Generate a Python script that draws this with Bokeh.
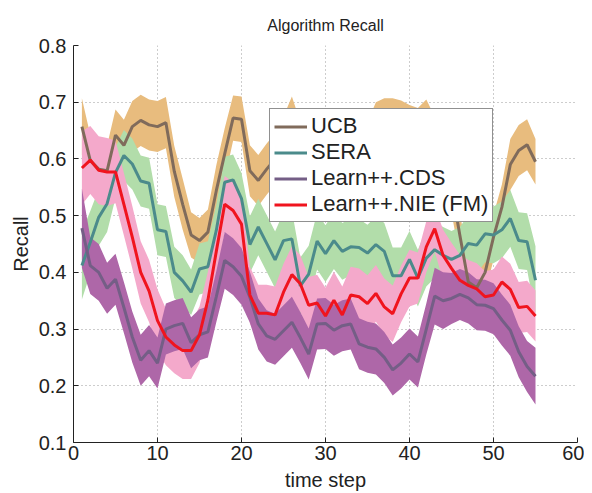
from bokeh.plotting import figure
from bokeh.models import Range1d, FixedTicker, Legend, LegendItem, Title
from bokeh.embed import file_html
from bokeh.resources import INLINE
import numpy as np

steps = list(range(1, 56))

ucb = [0.657, 0.597, 0.582, 0.579, 0.642, 0.624, 0.657, 0.668, 0.660, 0.657,
       0.664, 0.578, 0.520, 0.466, 0.456, 0.471, 0.544, 0.609, 0.672, 0.670,
       0.579, 0.562, 0.582, 0.600, 0.630, 0.665, 0.620, 0.600, 0.590, 0.610,
       0.600, 0.580, 0.600, 0.610, 0.620, 0.655, 0.662, 0.662, 0.658, 0.650,
       0.645, 0.660, 0.630, 0.600, 0.550, 0.465, 0.383, 0.373, 0.400, 0.462,
       0.515, 0.590, 0.615, 0.625, 0.595]
ucb_sd = [0.050, 0.045, 0.045, 0.045, 0.045, 0.045, 0.045, 0.045, 0.045, 0.045,
          0.045, 0.045, 0.045, 0.040, 0.040, 0.040, 0.045, 0.045, 0.040, 0.040,
          0.045, 0.045, 0.045, 0.045, 0.045, 0.045, 0.045, 0.045, 0.045, 0.045,
          0.045, 0.045, 0.045, 0.045, 0.045, 0.045, 0.045, 0.045, 0.045, 0.045,
          0.045, 0.045, 0.045, 0.045, 0.045, 0.040, 0.035, 0.035, 0.035, 0.040,
          0.040, 0.045, 0.045, 0.045, 0.040]

sera = [0.412, 0.453, 0.497, 0.521, 0.576, 0.606, 0.591, 0.561, 0.557, 0.475,
        0.472, 0.400, 0.385, 0.365, 0.406, 0.410, 0.474, 0.559, 0.563, 0.530,
        0.449, 0.480, 0.451, 0.422, 0.456, 0.459, 0.376, 0.397, 0.455, 0.433,
        0.456, 0.437, 0.445, 0.444, 0.434, 0.449, 0.437, 0.394, 0.394, 0.423,
        0.390, 0.425, 0.440, 0.430, 0.423, 0.430, 0.451, 0.448, 0.468, 0.466,
        0.475, 0.495, 0.456, 0.454, 0.386]
sera_sd = [0.060, 0.055, 0.050, 0.050, 0.045, 0.045, 0.045, 0.045, 0.045, 0.045,
           0.045, 0.045, 0.045, 0.040, 0.045, 0.045, 0.045, 0.045, 0.045, 0.045,
           0.050, 0.050, 0.050, 0.050, 0.050, 0.050, 0.050, 0.050, 0.050, 0.050,
           0.050, 0.050, 0.050, 0.050, 0.050, 0.050, 0.050, 0.050, 0.050, 0.050,
           0.050, 0.050, 0.050, 0.050, 0.050, 0.050, 0.050, 0.050, 0.050, 0.050,
           0.050, 0.050, 0.050, 0.050, 0.060]

cds = [0.478, 0.412, 0.400, 0.372, 0.388, 0.338, 0.286, 0.245, 0.262, 0.240,
       0.300, 0.306, 0.310, 0.276, 0.290, 0.295, 0.357, 0.421, 0.410, 0.393,
       0.356, 0.309, 0.288, 0.282, 0.297, 0.312, 0.285, 0.256, 0.309, 0.310,
       0.298, 0.306, 0.309, 0.274, 0.268, 0.265, 0.250, 0.228, 0.240, 0.256,
       0.242, 0.300, 0.358, 0.350, 0.354, 0.361, 0.355, 0.343, 0.342, 0.336,
       0.316, 0.298, 0.260, 0.234, 0.217]
cds_sd = [0.070, 0.050, 0.050, 0.045, 0.045, 0.045, 0.045, 0.045, 0.045, 0.045,
          0.045, 0.045, 0.045, 0.045, 0.045, 0.045, 0.045, 0.050, 0.050, 0.050,
          0.045, 0.045, 0.045, 0.045, 0.045, 0.045, 0.045, 0.045, 0.045, 0.045,
          0.045, 0.045, 0.045, 0.045, 0.045, 0.045, 0.045, 0.045, 0.045, 0.045,
          0.045, 0.045, 0.050, 0.050, 0.045, 0.045, 0.045, 0.045, 0.045, 0.045,
          0.045, 0.045, 0.045, 0.045, 0.050]

nie = [0.584, 0.598, 0.580, 0.577, 0.577, 0.520, 0.462, 0.400, 0.367, 0.315,
       0.286, 0.272, 0.262, 0.262, 0.290, 0.351, 0.437, 0.520, 0.509, 0.485,
       0.360, 0.328, 0.328, 0.325, 0.365, 0.396, 0.380, 0.342, 0.346, 0.323,
       0.351, 0.325, 0.360, 0.357, 0.345, 0.363, 0.339, 0.327, 0.362, 0.390,
       0.390, 0.445, 0.477, 0.430, 0.407, 0.386, 0.377, 0.371, 0.357, 0.360,
       0.383, 0.370, 0.338, 0.340, 0.323]
nie_sd = [0.065, 0.060, 0.060, 0.060, 0.055, 0.055, 0.055, 0.055, 0.055, 0.055,
          0.050, 0.050, 0.050, 0.050, 0.050, 0.050, 0.050, 0.050, 0.050, 0.050,
          0.050, 0.050, 0.050, 0.050, 0.050, 0.050, 0.050, 0.050, 0.050, 0.050,
          0.050, 0.050, 0.050, 0.050, 0.050, 0.050, 0.050, 0.050, 0.050, 0.050,
          0.045, 0.045, 0.040, 0.045, 0.045, 0.045, 0.045, 0.045, 0.045, 0.045,
          0.045, 0.045, 0.045, 0.045, 0.045]

series_names = ["UCB", "SERA", "Learn++.CDS", "Learn++.NIE (FM)"]
x_ticks = [0, 10, 20, 30, 40, 50, 60]
y_ticks = [0.1, 0.2, 0.3, 0.4, 0.5, 0.6, 0.7, 0.8]
title_text = "Algorithm Recall"

FONT = "Liberation Sans"

p = figure(width=584, height=493, output_backend="svg", toolbar_location=None,
           x_range=Range1d(0, 60), y_range=Range1d(0.1, 0.8),
           min_border_left=73, min_border_right=7, min_border_top=45, min_border_bottom=43)
p.outline_line_color = None
p.background_fill_color = "white"
p.border_fill_color = "white"

# trailing empty line lifts the title a little further above the frame
p.title = Title(text=title_text + "\n", align="center", text_font=FONT,
                text_font_size="16px", text_font_style="normal",
                text_color="#222222", standoff=0, text_line_height=0.65)

band_colors = ["#E8BC7E", "#B2DDAA", "#AE67A8", "#F4A9CB"]
line_colors = ["#806B5B", "#4B8B8B", "#745E86", "#F0141E"]
means = [ucb, sera, cds, nie]
sds = [ucb_sd, sera_sd, cds_sd, nie_sd]

xs = np.array(steps)
# bands drawn in order: UCB, SERA, NIE, CDS
for i in [0, 1, 3, 2]:
    m = np.array(means[i]); s = np.array(sds[i])
    p.varea(x=xs, y1=m - s, y2=m + s, fill_color=band_colors[i], fill_alpha=1.0)

renderers = []
for i in range(4):
    r = p.line(xs, means[i], line_color=line_colors[i], line_width=3)
    renderers.append(r)

p.xaxis.ticker = FixedTicker(ticks=x_ticks)
p.yaxis.ticker = FixedTicker(ticks=y_ticks)
for ax in [p.xaxis[0], p.yaxis[0]]:
    ax.major_tick_in = 5
    ax.major_tick_out = 0
    ax.minor_tick_in = 0
    ax.minor_tick_out = 0
    ax.axis_line_color = "#222222"
    ax.major_tick_line_color = "#222222"
    ax.major_label_text_font = FONT
    ax.major_label_text_font_size = "20px"
    ax.major_label_text_color = "#222222"
    ax.axis_label_text_font = FONT
    ax.axis_label_text_font_size = "20px"
    ax.axis_label_text_font_style = "normal"
    ax.axis_label_text_color = "#222222"
p.xaxis.axis_label = "time step"
p.yaxis.axis_label = "Recall"
p.xaxis.major_label_standoff = 3
p.xaxis.axis_label_standoff = 6
p.yaxis.major_label_standoff = 7
p.yaxis.axis_label_standoff = 4

for g in [p.xgrid[0], p.ygrid[0]]:
    g.grid_line_color = "#9a9a9a"
    g.grid_line_dash = "1 3"
    g.grid_line_width = 1

items = [LegendItem(label=series_names[i], renderers=[renderers[i]]) for i in range(4)]
legend = Legend(items=items, location=(196, 220))
legend.label_text_font = FONT
legend.label_text_font_size = "22px"
legend.label_text_color = "#222222"
legend.glyph_width = 33
legend.glyph_height = 25
legend.label_height = 25
legend.spacing = 0
legend.padding = 4
legend.margin = 0
legend.label_standoff = 4
legend.border_line_color = "#222222"
legend.border_line_width = 1.5
legend.background_fill_alpha = 1.0
p.add_layout(legend, "center")

open("out.html", "w").write(file_html(p, INLINE))
